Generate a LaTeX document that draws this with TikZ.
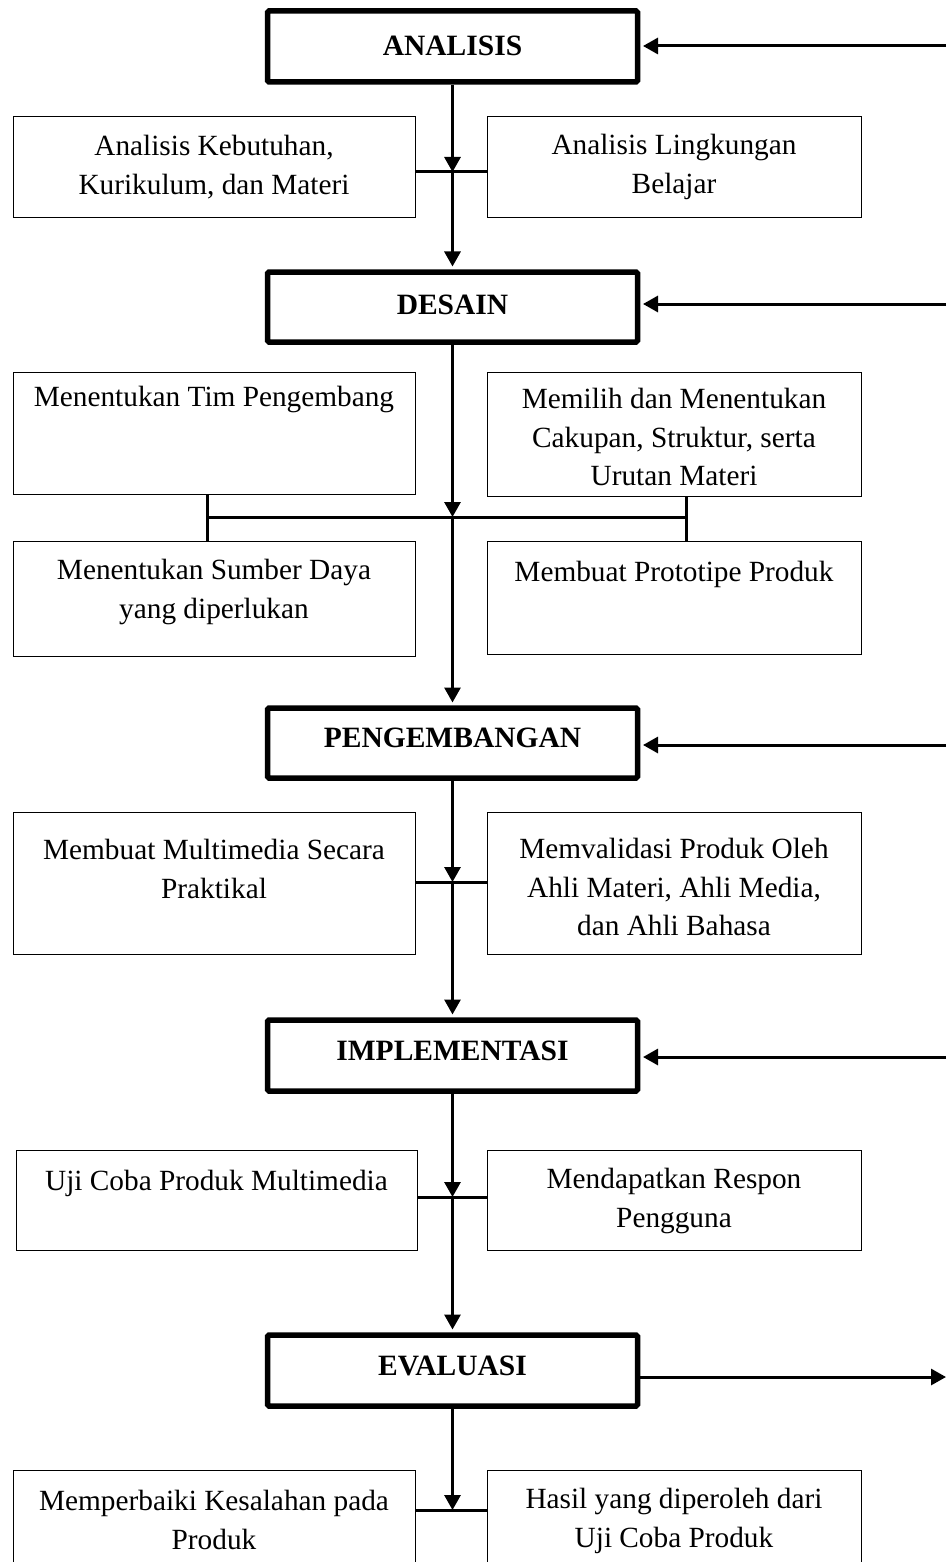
\documentclass[tikz,border=0pt]{standalone}
\usepackage{fontspec}
\setmainfont{Liberation Serif}
\usetikzlibrary{arrows.meta,calc}
\begin{document}
\begin{tikzpicture}[x=1pt,y=-1pt,
  mainbox/.style={draw, line width=5.5pt, rounded corners=1.5pt, minimum width=370pt, inner sep=0pt},
  subbox/.style={draw, line width=1.3pt, inner sep=0pt, anchor=north west},
  titletext/.style={font=\fontsize{29.5}{39}\selectfont\bfseries, inner sep=0pt},
  boxtext/.style={font=\fontsize{29.3}{38.5}\selectfont, align=center, inner sep=0pt},
  conn/.style={line width=3pt},
  arr/.style={line width=3pt, -{Triangle[length=15pt,width=16pt]}},
  arrin/.style={arr, shorten >=2.75pt}
]
\useasboundingbox (0,0) rectangle (946,1562);
\clip (0,0) rectangle (946,1562);

% main stages
\node[mainbox, minimum height=71pt] (ana) at (452.5,46.5) {};
\node[mainbox, minimum height=70pt] (des) at (452.5,307) {};
\node[mainbox, minimum height=70pt] (pen) at (452.5,743) {};
\node[mainbox, minimum height=71pt] (imp) at (452.5,1055.5) {};
\node[mainbox, minimum height=71pt] (eva) at (452.5,1370.5) {};

\node[titletext] (anat) at (452.5,46) {ANALISIS};
\node[titletext] (dest) at (452.5,305) {DESAIN};
\node[titletext] (pent) at (452.5,738) {PENGEMBANGAN};
\node[titletext] (impt) at (452.5,1051) {IMPLEMENTASI};
\node[titletext] (evat) at (452.5,1366) {EVALUASI};

% sub boxes
\node[subbox, minimum width=402pt, minimum height=101pt] (r1l) at (13,116) {};
\node[subbox, minimum width=374pt, minimum height=101pt] (r1r) at (487,116) {};
\node[subbox, minimum width=402pt, minimum height=122pt] (r2l) at (13,372) {};
\node[subbox, minimum width=374pt, minimum height=124pt] (r2r) at (487,372) {};
\node[subbox, minimum width=402pt, minimum height=115pt] (r3l) at (13,541) {};
\node[subbox, minimum width=374pt, minimum height=113pt] (r3r) at (487,541) {};
\node[subbox, minimum width=402pt, minimum height=142pt] (r4l) at (13,812) {};
\node[subbox, minimum width=374pt, minimum height=142pt] (r4r) at (487,812) {};
\node[subbox, minimum width=401pt, minimum height=100pt] (r5l) at (16,1150) {};
\node[subbox, minimum width=374pt, minimum height=100pt] (r5r) at (487,1150) {};
\node[subbox, minimum width=402pt, minimum height=130pt] (r6l) at (13,1470) {};
\node[subbox, minimum width=374pt, minimum height=130pt] (r6r) at (487,1470) {};

% texts
\node[boxtext] (t1l) at (214,167) {Analisis Kebutuhan,\\Kurikulum, dan Materi};
\node[boxtext] (t1r) at (674,167) {Analisis Lingkungan\\Belajar};
\node[boxtext] (t2l) at (214,399) {Menentukan Tim Pengembang};
\node[boxtext] (t2r) at (674,437) {Memilih dan Menentukan\\Cakupan, Struktur, serta\\Urutan Materi};
\node[boxtext] (t3l) at (214,592) {Menentukan Sumber Daya\\yang diperlukan};
\node[boxtext] (t3r) at (674,574) {Membuat Prototipe Produk};
\node[boxtext] (t4l) at (214,869) {Membuat Multimedia Secara\\Praktikal};
\node[boxtext] (t4r) at (674,887) {Memvalidasi Produk Oleh\\Ahli Materi, Ahli Media,\\dan Ahli Bahasa};
\node[boxtext] (t5l) at (216.5,1183) {Uji Coba Produk Multimedia};
\node[boxtext] (t5r) at (674,1201) {Mendapatkan Respon\\Pengguna};
\node[boxtext] (t6l) at (214,1520) {Memperbaiki Kesalahan pada\\Produk};
\node[boxtext] (t6r) at (674,1521) {Hasil yang diperoleh dari\\Uji Coba Produk};

% junction points
\coordinate (j1) at (452.5,172);
\coordinate (j2) at (452.5,517);
\coordinate (jL) at (207,517);
\coordinate (jR) at (686,517);
\coordinate (j4) at (452.5,882);
\coordinate (j5) at (452.5,1197);
\coordinate (j6) at (452.5,1510);

% feedback / side inputs
\coordinate (inA) at (946,46);
\coordinate (inD) at (946,304);
\coordinate (inP) at (946,745);
\coordinate (inI) at (946,1057);
\coordinate (outE) at (946,1377);

% vertical flow
\draw[arr] (ana.south) -- (j1);
\draw[arrin] (j1) -- (des.north);
\draw[arr] (des.south) -- (j2);
\draw[arrin] (j2) -- (pen.north);
\draw[arr] (pen.south) -- (j4);
\draw[arrin] (j4) -- (imp.north);
\draw[arr] (imp.south) -- (j5);
\draw[arrin] (j5) -- (eva.north);
\draw[arr] (eva.south) -- (j6);

% junction bars
\draw[conn] (r1l.east |- j1) -- (r1r.west |- j1);
\draw[conn] (jL) -- (jR);
\draw[conn] (r2l.south -| jL) -- (r3l.north -| jL);
\draw[conn] (r2r.south -| jR) -- (r3r.north -| jR);
\draw[conn] (r4l.east |- j4) -- (r4r.west |- j4);
\draw[conn] (r5l.east |- j5) -- (r5r.west |- j5);
\draw[conn] (r6l.east |- j6) -- (r6r.west |- j6);

% side arrows
\draw[arrin] (inA) -- (ana.east |- inA);
\draw[arrin] (inD) -- (des.east |- inD);
\draw[arrin] (inP) -- (pen.east |- inP);
\draw[arrin] (inI) -- (imp.east |- inI);
\draw[arr] (eva.east |- outE) -- (outE);
\end{tikzpicture}
\end{document}
